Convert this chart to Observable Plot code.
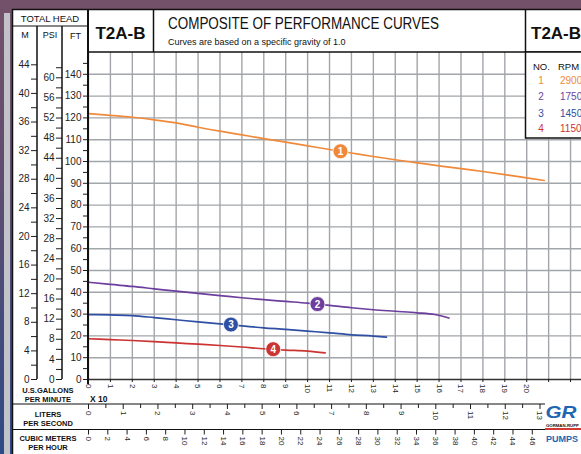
<!DOCTYPE html>
<html><head><meta charset="utf-8">
<script src="https://cdn.jsdelivr.net/npm/d3@7"></script>
<script src="https://cdn.jsdelivr.net/npm/@observablehq/plot@0.6"></script>
<style>
html,body{margin:0;padding:0;}
body{width:581px;height:454px;overflow:hidden;position:relative;background:linear-gradient(to bottom,#74516a 0%,#5f4c70 40%,#2e4a86 100%);font-family:"Liberation Sans",Arial,sans-serif;}
#strip{position:absolute;left:4px;top:13px;width:6px;height:441px;background:#c2c3c8;}
#panel{position:absolute;left:12px;top:9px;right:0;bottom:0;background:#fff;}
#chart{position:absolute;left:0;top:0;}
#overlay{position:absolute;left:0;top:0;font-family:"Liberation Sans",Arial,sans-serif;}
</style></head><body>
<div id="strip"></div><div id="panel"></div><div id="chart"></div>
<svg id="overlay" width="581" height="454"></svg>
<script>
// ---- data ----
const curveNo = ["1", "2", "3", "4"];
const curveRpm = ["2900", "1750", "1450", "1150"];
const curveColor = ["#f08a3a", "#6c3f9e", "#2f4fa3", "#cc3333"];
const gpm1 = [0,10,20,30,40,50,60,70,80,90,100,110,120,130,140,150,160,170,180,190,200,208];
const ft1  = [122,121.2,120.3,119.1,117.7,115.7,113.9,112.2,110.5,108.9,107.2,105.5,103.9,102.3,100.8,99.4,98,96.7,95.4,94,92.5,91.3];
const gpm2 = [0,10,20,30,40,50,60,70,80,90,100,110,120,130,140,150,158,164.5];
const ft2  = [44.6,43.6,42.7,41.6,40.5,39.5,38.5,37.5,36.6,35.8,35,34,32.9,32,31.3,30.6,29.8,28.2];
const gpm3 = [0,10,20,30,40,50,60,70,80,90,100,110,120,130,136];
const ft3  = [29.8,29.6,29.3,28.4,27.4,26.4,25.5,24.6,23.7,23,22.2,21.4,20.5,19.9,19.4];
const gpm4 = [0,10,20,30,40,50,60,70,80,90,100,108];
const ft4  = [18.7,18.3,17.9,17.4,16.8,16.2,15.6,14.9,14.1,13.5,13,12.2];
const labelGpm = [115, 104.5, 65, 84.3];
const labelFt  = [104.7, 34.6, 25.2, 13.9];

const ftTicks  = [0,10,20,30,40,50,60,70,80,90,100,110,120,130,140];
const ftMinor  = [5,15,25,35,45,55,65,75,85,95,105,115,125,135,145];
const mTicks   = [0,4,8,12,16,20,24,28,32,36,40,44];
const mMinor   = [2,6,10,14,18,22,26,30,34,38,42];
const psiTicks = [0,4,8,12,16,20,24,28,32,36,40,44,48,52,56,60];
const psiMinor = [2,6,10,14,18,22,26,30,34,38,42,46,50,54,58,62];
const gpmTicks = [0,10,20,30,40,50,60,70,80,90,100,110,120,130,140,150,160,170,180,190,200];
const gpmMinor = [210,220];
const lpsTicks = [0,1,2,3,4,5,6,7,8,9,10,11,12,13];
const lpsHalf  = [0.5,1.5,2.5,3.5,4.5,5.5,6.5,7.5,8.5,9.5,10.5,11.5,12.5];
const m3Ticks  = [0,2,4,6,8,10,12,14,16,18,20,22,24,26,28,30,32,34,36,38,40,42,44,46];
const gridGpm  = [0,10,20,30,40,50,60,70,80,90,100,110,120,130,140,150,160,170,180,190,200,210,220];
const gridFt   = [10,20,30,40,50,60,70,80,90,100,110,120,130,140];

// unit conversions
const FT_PER_M = 3.28084, FT_PER_PSI = 2.30666, GPM_PER_LPS = 15.8503, GPM_PER_M3H = 4.40287;

const curves = [[gpm1, ft1], [gpm2, ft2], [gpm3, ft3], [gpm4, ft4]].map(([g, f], i) => ({
  no: curveNo[i], color: curveColor[i], pts: g.map((x, j) => ({gpm: x, ft: f[j]}))
}));
const labels = curveNo.map((n, i) => ({no: n, gpm: labelGpm[i], ft: labelFt[i], color: curveColor[i]}));

const ax = {label: null, fontSize: 10};
const chart = Plot.plot({
  width: 581, height: 454,
  marginLeft: 88, marginRight: 0, marginTop: 52, marginBottom: 75,
  x: {domain: [0, 225]},
  y: {domain: [0, 150]},
  style: {background: "transparent", fontFamily: "Liberation Sans, Arial, sans-serif", color: "#1e1e1e"},
  marks: [
    Plot.gridX(gridGpm, {stroke: "#a2a6aa", strokeOpacity: 1, strokeWidth: 1.4}),
    Plot.gridY(gridFt, {stroke: "#a2a6aa", strokeOpacity: 1, strokeWidth: 1.4}),
    Plot.ruleY([0], {stroke: "#333", strokeWidth: 1.5}),
    // FT axis
    Plot.axisY(ftTicks, {...ax, anchor: "left", tickSize: 5, tickPadding: 2}),
    Plot.axisY(ftMinor, {...ax, anchor: "left", tickSize: 5, fill: "none"}),
    // PSI axis
    Plot.axisY(psiTicks.map(p => p * FT_PER_PSI), {...ax, anchor: "left", dx: -26, tickSize: 6, tickPadding: 2, tickFormat: v => Math.round(v / FT_PER_PSI)}),
    Plot.axisY(psiMinor.map(p => p * FT_PER_PSI), {...ax, anchor: "left", dx: -26, tickSize: 6, fill: "none"}),
    // M axis
    Plot.axisY(mTicks.map(m => m * FT_PER_M), {...ax, anchor: "left", dx: -51, tickSize: 6, tickPadding: 2, tickFormat: v => Math.round(v / FT_PER_M)}),
    Plot.axisY(mMinor.map(m => m * FT_PER_M), {...ax, anchor: "left", dx: -51, tickSize: 6, fill: "none"}),
    // GPM axis (x10)
    Plot.axisX(gpmTicks, {label: null, fontSize: 8, anchor: "bottom", tickSize: 3, tickPadding: 1.5, tickRotate: 90, tickFormat: d => d / 10}),
    Plot.axisX(gpmMinor, {label: null, anchor: "bottom", tickSize: 3, fill: "none"}),
    // Liters per second
    Plot.axisX(lpsTicks.map(v => v * GPM_PER_LPS), {label: null, fontSize: 8, anchor: "bottom", dy: 25, tickSize: 5, tickPadding: 1.5, tickRotate: 90, tickFormat: v => Math.round(v / GPM_PER_LPS)}),
    Plot.axisX(lpsHalf.map(v => v * GPM_PER_LPS), {label: null, anchor: "bottom", dy: 25, tickSize: 4, fill: "none"}),
    // Cubic meters per hour
    Plot.axisX(m3Ticks.map(v => v * GPM_PER_M3H), {label: null, fontSize: 8, anchor: "bottom", dy: 50.5, tickSize: 5, tickPadding: 1.5, tickRotate: 90, tickFormat: v => Math.round(v / GPM_PER_M3H)}),
    // curves
    ...curves.map(c => Plot.line(c.pts, {x: "gpm", y: "ft", stroke: c.color, strokeWidth: 1.7, curve: "monotone-x"})),
    Plot.dot(labels, {x: "gpm", y: "ft", r: 7.5, fill: d => d.color, stroke: "white", strokeWidth: 0.8}),
    Plot.text(labels, {x: "gpm", y: "ft", text: "no", fill: "white", fontWeight: "bold", fontSize: 10, dy: 0.5})
  ]
});
document.getElementById("chart").appendChild(chart);

// ---- frame, header, legend, logo ----
const svg = d3.select("#overlay");
const L = (x1, y1, x2, y2, w) => svg.append("line").attr("x1", x1).attr("y1", y1).attr("x2", x2).attr("y2", y2)
  .attr("stroke", "#111").attr("stroke-width", w);
L(12.5, 9, 12.5, 454, 1.5);
L(12, 9.5, 581, 9.5, 1.5);
L(12, 26, 88, 26, 1.2);
L(37, 26, 37, 379, 1.5);
L(62, 26, 62, 379, 1.5);
L(88, 9, 88, 384, 2);
L(153.5, 9, 153.5, 52, 1.5);
L(525.5, 9, 525.5, 52, 1.5);
L(88, 52, 581, 52, 1.5);
L(12, 404, 545, 404, 1.2);
L(12, 429.5, 545, 429.5, 1.2);

const T = (x, y, s, size, opts = {}) => {
  const t = svg.append("text").attr("x", x).attr("y", y).attr("font-size", size)
    .attr("fill", opts.fill || "#111").attr("text-anchor", opts.anchor || "start")
    .attr("font-weight", opts.bold ? "bold" : "normal").text(s);
  if (opts.len) t.attr("textLength", opts.len).attr("lengthAdjust", "spacingAndGlyphs");
  if (opts.italic) t.attr("font-style", "italic");
  return t;
};
T(50, 21.5, "TOTAL HEAD", 9.5, {anchor: "middle"});
T(25, 38, "M", 9, {anchor: "middle"});
T(50, 38, "PSI", 9, {anchor: "middle"});
T(75.5, 38.5, "FT", 9, {anchor: "middle"});
T(120.5, 39, "T2A-B", 17, {anchor: "middle", bold: true});
T(168, 28.5, "COMPOSITE OF PERFORMANCE CURVES", 16, {len: 271});
T(168, 45, "Curves are based on a specific gravity of 1.0", 9);
T(531, 39, "T2A-B", 17, {bold: true});

// legend
svg.append("rect").attr("x", 525.5).attr("y", 52).attr("width", 60).attr("height", 86)
  .attr("fill", "#fff").attr("stroke", "#111").attr("stroke-width", 1.5);
T(533, 70, "NO.", 9.5);
T(558, 70, "RPM", 9.5);
const rowY = [84, 100, 116.5, 131.5];
curveNo.forEach((n, i) => {
  T(541, rowY[i], n, 10, {anchor: "middle", fill: curveColor[i]});
  T(560, rowY[i], curveRpm[i], 10, {fill: curveColor[i]});
});

// bottom-left labels
T(48, 393, "U.S.GALLONS", 7.5, {anchor: "middle", bold: true});
T(48, 402, "PER MINUTE", 7.5, {anchor: "middle", bold: true});
T(90, 401.5, "X 10", 8.5, {bold: true});
T(48, 417, "LITERS", 7.5, {anchor: "middle", bold: true});
T(48, 426, "PER SECOND", 7.5, {anchor: "middle", bold: true});
T(48, 441, "CUBIC METERS", 7.5, {anchor: "middle", bold: true});
T(48, 450, "PER HOUR", 7.5, {anchor: "middle", bold: true});

// logo
svg.append("rect").attr("x", 545).attr("y", 402).attr("width", 40).attr("height", 52).attr("fill", "#fff");
T(545.5, 418, "GR", 17, {bold: true, italic: true, fill: "#1e66b3", len: 31});
T(546, 427, "GORMAN-RUPP", 4.3, {bold: true, fill: "#111"});
svg.append("rect").attr("x", 545).attr("y", 428).attr("width", 40).attr("height", 2).attr("fill", "#d33a33");
T(546, 441.5, "PUMPS", 9, {bold: true, fill: "#1e66b3"});
</script>
</body></html>
